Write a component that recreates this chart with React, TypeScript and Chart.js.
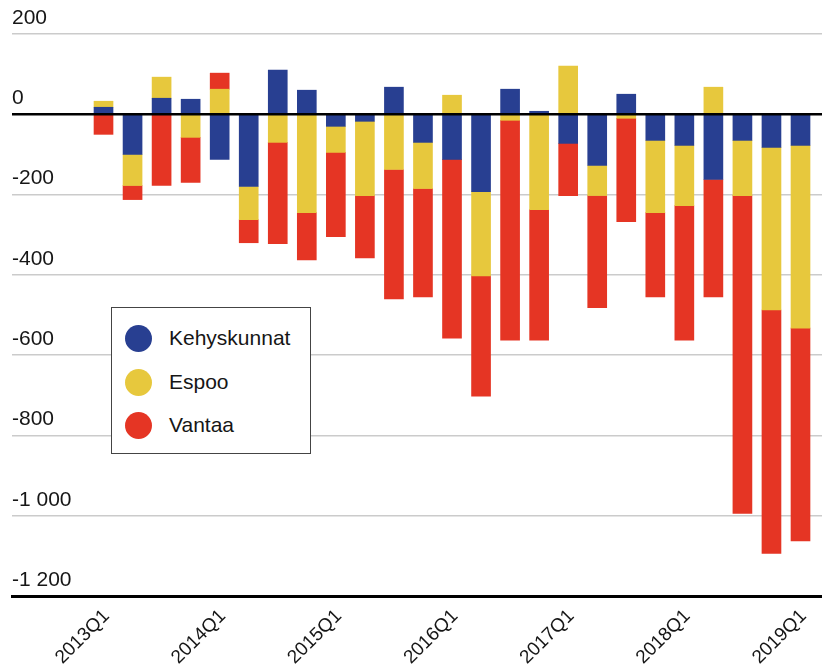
import React, { useEffect, useRef } from "react";
import { Chart, registerables } from "chart.js";

Chart.register(...registerables);

const quarters = [
  "2013Q1", "2013Q2", "2013Q3", "2013Q4",
  "2014Q1", "2014Q2", "2014Q3", "2014Q4",
  "2015Q1", "2015Q2", "2015Q3", "2015Q4",
  "2016Q1", "2016Q2", "2016Q3", "2016Q4",
  "2017Q1", "2017Q2", "2017Q3", "2017Q4",
  "2018Q1", "2018Q2", "2018Q3", "2018Q4",
  "2019Q1",
];

const kehyskunnat = [
  17.5, -100, 40, 37.5, -112.5, -180, 110, 60, -30, -17.5, 67.5, -70,
  -112.5, -192.5, 62.5, 7.5, -72.5, -127.5, 50, -65, -77.5, -162.5, -65, -82.5, -77.5,
];
const espoo = [
  15, -77.5, 52.5, -57.5, 62.5, -82.5, -70, -245, -65, -185, -137.5, -115,
  47.5, -210, -15, -237.5, 120, -75, -10, -180, -150, 67.5, -137.5, -405, -455,
];
const vantaa = [
  -50, -35, -177.5, -112.5, 40, -57.5, -252.5, -117.5, -210, -155, -322.5, -270,
  -445, -300, -547.5, -325, -130, -279, -257.5, -210, -335, -292.5, -791.5, -606.5, -530,
];

const seriesNames = ["Kehyskunnat", "Espoo", "Vantaa"];
const seriesColors = ["#283F91", "#E7C83D", "#E53524"];
const xTickIndexes = [0, 4, 8, 12, 16, 20, 24];
const yMin = -1200;
const yMax = 200;
const yStep = 200;

const FONT = "'Liberation Sans', Arial, sans-serif";
const TEXT = "#161616";

function formatNum(v: number): string {
  const s = Math.abs(v).toString().replace(/\B(?=(\d{3})+(?!\d))/g, " ");
  return (v < 0 ? "-" : "") + s;
}

const zeroLinePlugin = {
  id: "zeroLine",
  afterDatasetsDraw(chart: any) {
    const { ctx, chartArea, scales } = chart;
    const y = scales.y.getPixelForValue(0);
    ctx.save();
    ctx.strokeStyle = "#000";
    ctx.lineWidth = 2.5;
    ctx.beginPath();
    ctx.moveTo(chartArea.left, y);
    ctx.lineTo(chartArea.right, y);
    ctx.stroke();
    ctx.restore();
  },
};

export default function App() {
  const canvasRef = useRef<HTMLCanvasElement | null>(null);

  useEffect(() => {
    if (!canvasRef.current) return;
    const series = [kehyskunnat, espoo, vantaa];
    const chart = new Chart(canvasRef.current, {
      type: "bar",
      data: {
        datasets: series.map((arr, k) => ({
          label: seriesNames[k],
          data: arr.map((v, i) => ({ x: i, y: v })),
          backgroundColor: seriesColors[k],
          borderWidth: 0,
          barThickness: 19,
        })),
      },
      options: {
        responsive: false,
        animation: false,
        layout: { padding: { left: 12, top: 34, right: 0, bottom: 0 } },
        plugins: {
          legend: { display: false },
          tooltip: { enabled: false },
        },
        scales: {
          x: {
            type: "linear",
            stacked: true,
            offset: false,
            min: -3.151,
            max: 24.74,
            afterBuildTicks: (scale: any) => {
              scale.ticks = xTickIndexes.map((v) => ({ value: v }));
            },
            afterFit: (scale: any) => {
              scale.height = 73;
              scale.paddingLeft = 0;
              scale.paddingRight = 0;
            },
            grid: { display: false, drawTicks: false, offset: false },
            border: { display: true, color: "#000", width: 3 },
            ticks: {
              autoSkip: false,
              minRotation: 45,
              maxRotation: 45,
              padding: 9,
              labelOffset: 3,
              color: TEXT,
              font: { family: FONT, size: 19 },
              callback: (value: any) => quarters[Number(value)] ?? "",
            },
          },
          y: {
            stacked: true,
            min: yMin,
            max: yMax,
            grid: {
              drawTicks: false,
              lineWidth: 1.5,
              color: (ctx: any) => {
                const v = ctx.tick ? ctx.tick.value : null;
                if (v === 0 || v === yMin) return "rgba(0,0,0,0)";
                return "#cbcbcb";
              },
            },
            border: { display: false },
            ticks: {
              stepSize: yStep,
              mirror: true,
              padding: 0,
              labelOffset: -16,
              color: TEXT,
              font: { family: FONT, size: 21 },
              callback: (value: any) => formatNum(Number(value)),
            },
          },
        },
      },
      plugins: [zeroLinePlugin],
    } as any);
    return () => chart.destroy();
  }, []);

  const legendCenters = [338, 382, 425];

  return (
    <div style={{ position: "absolute", left: 0, top: 0, width: 822, height: 669 }}>
      <canvas ref={canvasRef} width={822} height={669} style={{ display: "block" }} />
      <div
        style={{
          position: "absolute",
          left: 111,
          top: 307,
          width: 200,
          height: 147,
          boxSizing: "border-box",
          border: "1px solid #444",
          background: "#fff",
          fontFamily: FONT,
          fontSize: 21,
          color: TEXT,
        }}
      >
        {seriesNames.map((name, k) => (
          <div
            key={name}
            style={{
              position: "absolute",
              left: 0,
              top: legendCenters[k] - 308 - 15,
              height: 30,
              display: "flex",
              alignItems: "center",
            }}
          >
            <span
              style={{
                display: "inline-block",
                marginLeft: 13,
                width: 27,
                height: 27,
                borderRadius: "50%",
                background: seriesColors[k],
              }}
            />
            <span style={{ marginLeft: 17, whiteSpace: "nowrap", lineHeight: "30px" }}>{name}</span>
          </div>
        ))}
      </div>
    </div>
  );
}
